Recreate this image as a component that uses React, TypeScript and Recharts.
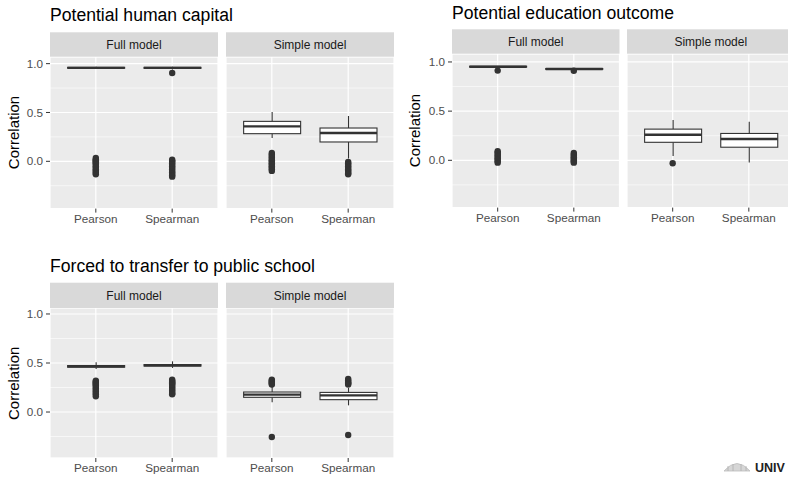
import React from 'react';
import { ComposedChart, Bar, Scatter, XAxis, YAxis, CartesianGrid } from 'recharts';

// ---------- data ----------
const methods = ['Pearson', 'Spearman'];
const models = ['Full model', 'Simple model'];
const groupTitles = ['Potential human capital', 'Potential education outcome', 'Forced to transfer to public school'];
const yMajorTicks = [0, 0.5, 1.0];
const yMinorTicks = [-0.25, 0.25, 0.75];

// box stats: [lower whisker, q1, median, q3, upper whisker]
const humanFullPearson = [0.945, 0.953, 0.957, 0.962, 0.968];
const humanFullSpearman = [0.94, 0.952, 0.957, 0.962, 0.968];
const humanSimplePearson = [0.238, 0.283, 0.358, 0.409, 0.505];
const humanSimpleSpearman = [0.028, 0.198, 0.29, 0.341, 0.464];
const humanFullPearsonOut = [0.034, 0.02, 0.01, 0.0, -0.01, -0.02, -0.035, -0.05, -0.065, -0.08, -0.095, -0.11, -0.12, -0.133];
const humanFullSpearmanOut = [0.904, 0.016, 0.005, -0.005, -0.02, -0.035, -0.05, -0.065, -0.08, -0.1, -0.115, -0.13, -0.145, -0.157];
const humanSimplePearsonOut = [0.085, 0.07, 0.055, 0.04, 0.025, 0.01, -0.005, -0.02, -0.035, -0.05, -0.065, -0.08, -0.098];
const humanSimpleSpearmanOut = [-0.007, -0.02, -0.035, -0.05, -0.065, -0.08, -0.095, -0.11, -0.122, -0.133];

const eduFullPearson = [0.945, 0.948, 0.952, 0.956, 0.96];
const eduFullSpearman = [0.92, 0.925, 0.929, 0.933, 0.937];
const eduSimplePearson = [0.043, 0.183, 0.26, 0.317, 0.41];
const eduSimpleSpearman = [-0.023, 0.133, 0.217, 0.273, 0.393];
const eduFullPearsonOut = [0.912, 0.092, 0.08, 0.065, 0.05, 0.035, 0.02, 0.005, -0.01, -0.024];
const eduFullSpearmanOut = [0.91, 0.075, 0.06, 0.045, 0.03, 0.015, 0.0, -0.012, -0.024];
const eduSimplePearsonOut = [-0.03];
const eduSimpleSpearmanOut: number[] = [];

const transferFullPearson = [0.44, 0.457, 0.466, 0.474, 0.507];
const transferFullSpearman = [0.45, 0.469, 0.477, 0.484, 0.517];
const transferSimplePearson = [0.099, 0.15, 0.177, 0.204, 0.262];
const transferSimpleSpearman = [0.068, 0.126, 0.17, 0.2, 0.245];
const transferFullPearsonOut = [0.32, 0.31, 0.3, 0.29, 0.28, 0.27, 0.255, 0.24, 0.225, 0.21, 0.195, 0.18, 0.16];
const transferFullSpearmanOut = [0.33, 0.32, 0.31, 0.3, 0.29, 0.28, 0.265, 0.25, 0.235, 0.22, 0.205, 0.19, 0.18];
const transferSimplePearsonOut = [0.33, 0.32, 0.31, 0.3, 0.29, 0.28, -0.255];
const transferSimpleSpearmanOut = [0.337, 0.325, 0.31, 0.3, 0.29, 0.28, -0.235];

const logoText = 'UNIV';

// ---------- helpers ----------
const FONT = '"Liberation Sans", Arial, Helvetica, sans-serif';
const DARK = '#333333';

const makeRows = (p: number[], s: number[]) => [
  { x: 1, range: [p[0], p[4]], stats: p },
  { x: 2, range: [s[0], s[4]], stats: s },
];
const makeOut = (p: number[], s: number[]) => [
  ...p.map((v) => ({ x: 1, y: v })),
  ...s.map((v) => ({ x: 2, y: v })),
];

const BoxShape = (props: any) => {
  const { x, y, width, height } = props;
  const p = props.payload && props.payload.stats ? props.payload : props;
  if (!p || !p.stats || x == null || y == null) return <g />;
  const [lo, q1, med, q3, hi] = p.stats as number[];
  const top = Math.min(y, y + height);
  const h = Math.abs(height);
  const toY = (v: number) => top + (h * (hi - v)) / (hi - lo);
  const cx = x + width / 2;
  return (
    <g>
      <line x1={cx} x2={cx} y1={toY(hi)} y2={toY(q3)} stroke={DARK} strokeWidth={1.1} />
      <line x1={cx} x2={cx} y1={toY(q1)} y2={toY(lo)} stroke={DARK} strokeWidth={1.1} />
      <rect x={x} y={toY(q3)} width={width} height={Math.max(0, toY(q1) - toY(q3))} fill="#ffffff" stroke={DARK} strokeWidth={1.1} />
      <line x1={x} x2={x + width} y1={toY(med)} y2={toY(med)} stroke={DARK} strokeWidth={2.4} />
    </g>
  );
};

const Dot = (props: any) => <circle cx={props.cx} cy={props.cy} r={3.2} fill={DARK} />;

type PanelProps = {
  left: number;
  top: number;
  width: number;
  height: number;
  domain: [number, number];
  showY: boolean;
  rows: any[];
  outs: any[];
};

const Y_W = 50;
const X_H = 30;

const Panel = ({ left, top, width, height, domain, showY, rows, outs }: PanelProps) => {
  const cw = width + (showY ? Y_W : 0);
  return (
    <div style={{ position: 'absolute', left: left - (showY ? Y_W : 0), top, width: cw, height: height + X_H }}>
      <ComposedChart width={cw} height={height + X_H} data={rows} margin={{ top: 0, right: 0, bottom: 0, left: 0 }}>
        <CartesianGrid yAxisId="minor" vertical={false} stroke="#ffffff" strokeWidth={0.6} fill="#EBEBEB" />
        <CartesianGrid stroke="#ffffff" strokeWidth={1.2} />
        <XAxis
          dataKey="x"
          type="number"
          domain={[0.4, 2.6]}
          allowDataOverflow
          ticks={[1, 2]}
          interval={0}
          tickFormatter={(v: number) => methods[v - 1]}
          axisLine={false}
          tickLine={{ stroke: DARK }}
          tickSize={4}
          tickMargin={2}
          height={X_H}
          tick={{ fill: '#4D4D4D', fontSize: 11.7, fontFamily: FONT }}
        />
        <YAxis
          type="number"
          domain={domain}
          allowDataOverflow
          ticks={yMajorTicks}
          interval={0}
          hide={!showY}
          width={Y_W}
          axisLine={false}
          tickLine={{ stroke: DARK }}
          tickSize={4}
          tickMargin={3}
          tickFormatter={(v: number) => v.toFixed(1)}
          tick={{ fill: '#4D4D4D', fontSize: 11.7, fontFamily: FONT }}
        />
        <YAxis yAxisId="minor" type="number" domain={domain} allowDataOverflow ticks={yMinorTicks} interval={0} hide />
        <Bar dataKey="range" barSize={57} shape={BoxShape} isAnimationActive={false} />
        <Scatter data={outs} dataKey="y" shape={Dot} isAnimationActive={false} />
      </ComposedChart>
    </div>
  );
};

type GroupCfg = {
  title: string;
  titleX: number;
  titleY: number;
  labelX: number;
  stripTop: number;
  stripH: number;
  panelTop: number;
  panelH: number;
  panelXs: number[];
  panelW: number;
  domain: [number, number];
  data: { rows: any[]; outs: any[] }[];
};

const groups: GroupCfg[] = [
  {
    title: groupTitles[0], titleX: 50, titleY: 21, labelX: 13.3,
    stripTop: 32.3, stripH: 24.4, panelTop: 56.7, panelH: 151.6,
    panelXs: [50, 226], panelW: 168, domain: [-0.484, 1.068],
    data: [
      { rows: makeRows(humanFullPearson, humanFullSpearman), outs: makeOut(humanFullPearsonOut, humanFullSpearmanOut) },
      { rows: makeRows(humanSimplePearson, humanSimpleSpearman), outs: makeOut(humanSimplePearsonOut, humanSimpleSpearmanOut) },
    ],
  },
  {
    title: groupTitles[1], titleX: 452, titleY: 19, labelX: 414,
    stripTop: 29.3, stripH: 24.4, panelTop: 53.7, panelH: 153.6,
    panelXs: [452, 627], panelW: 167.5, domain: [-0.481, 1.081],
    data: [
      { rows: makeRows(eduFullPearson, eduFullSpearman), outs: makeOut(eduFullPearsonOut, eduFullSpearmanOut) },
      { rows: makeRows(eduSimplePearson, eduSimpleSpearman), outs: makeOut(eduSimplePearsonOut, eduSimpleSpearmanOut) },
    ],
  },
  {
    title: groupTitles[2], titleX: 50, titleY: 272, labelX: 13.3,
    stripTop: 282.7, stripH: 25.6, panelTop: 308.3, panelH: 150,
    panelXs: [50, 226], panelW: 168, domain: [-0.469, 1.061],
    data: [
      { rows: makeRows(transferFullPearson, transferFullSpearman), outs: makeOut(transferFullPearsonOut, transferFullSpearmanOut) },
      { rows: makeRows(transferSimplePearson, transferSimpleSpearman), outs: makeOut(transferSimplePearsonOut, transferSimpleSpearmanOut) },
    ],
  },
];

export default function App() {
  return (
    <div style={{ position: 'absolute', left: 0, top: 0, width: 788, height: 477, overflow: 'hidden', background: '#ffffff', fontFamily: FONT }}>
      <svg width={788} height={477} style={{ position: 'absolute', left: 0, top: 0 }}>
        {groups.map((g, gi) => (
          <g key={gi}>
            <text x={g.titleX} y={g.titleY} fontSize={17.6} fill="#000000" fontFamily={FONT}>{g.title}</text>
            <text
              x={g.labelX}
              y={g.panelTop + g.panelH / 2}
              fontSize={15}
              fill="#000000"
              fontFamily={FONT}
              textAnchor="middle"
              dominantBaseline="central"
              transform={`rotate(-90, ${g.labelX}, ${g.panelTop + g.panelH / 2})`}
            >
              Correlation
            </text>
            {g.panelXs.map((px, pi) => (
              <g key={pi}>
                <rect x={px} y={g.stripTop} width={g.panelW} height={g.stripH} fill="#D9D9D9" />
                <text
                  x={px + g.panelW / 2}
                  y={g.stripTop + g.stripH / 2 + 4.3}
                  fontSize={12}
                  fill="#1A1A1A"
                  fontFamily={FONT}
                  textAnchor="middle"
                >
                  {models[pi]}
                </text>
              </g>
            ))}
          </g>
        ))}
        <g>
          <path d="M724 471 Q737 456 750 471 Z" fill="#d6d6d6" stroke="#bdbdbd" strokeWidth={0.8} />
          <path d="M728 471 L728 466 M733 471 L733 464 M741 471 L741 464 M746 471 L746 466" stroke="#b0b0b0" strokeWidth={0.8} />
          <text x={755} y={472} fontSize={12.5} fontWeight="bold" fill="#222222" fontFamily={FONT}>{logoText}</text>
        </g>
      </svg>
      {groups.map((g, gi) =>
        g.panelXs.map((px, pi) => (
          <Panel
            key={`${gi}-${pi}`}
            left={px}
            top={g.panelTop}
            width={g.panelW}
            height={g.panelH}
            domain={g.domain}
            showY={pi === 0}
            rows={g.data[pi].rows}
            outs={g.data[pi].outs}
          />
        ))
      )}
    </div>
  );
}
